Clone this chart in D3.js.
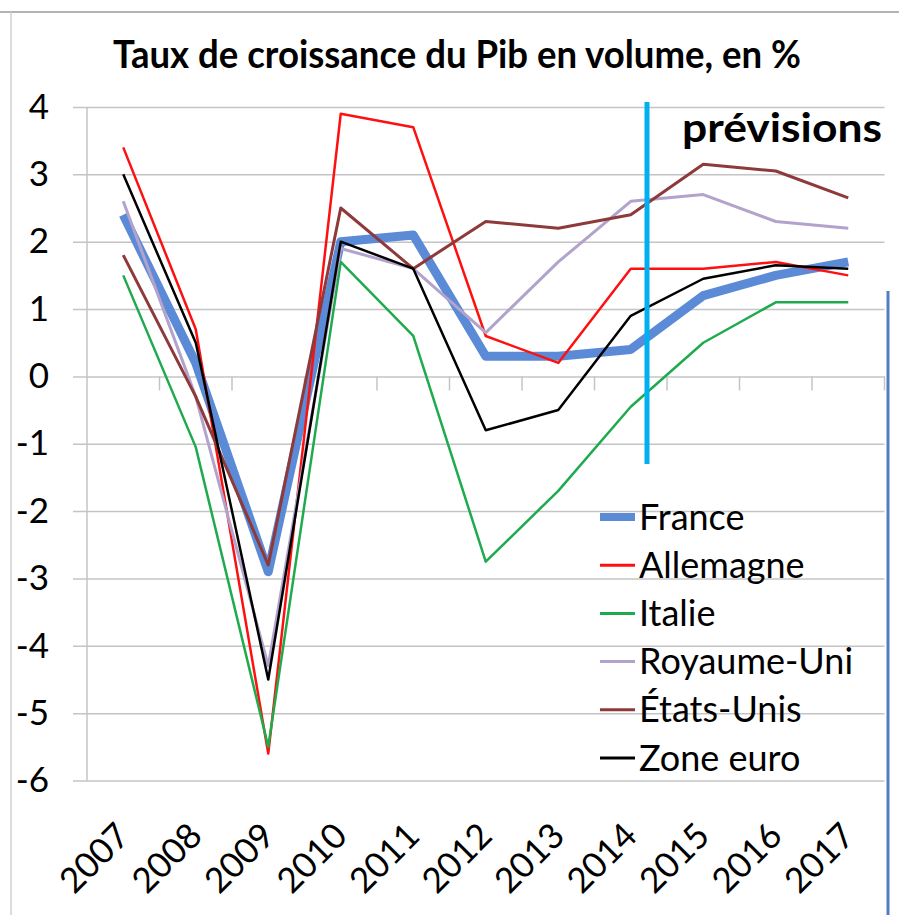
<!DOCTYPE html>
<html>
<head>
<meta charset="utf-8">
<script src="https://cdn.jsdelivr.net/npm/d3@7"></script>
<style>
  body { margin: 0; background: #fff; }
  svg { display: block; font-family: Lato, "Open Sans", sans-serif; }
</style>
</head>
<body>
<svg id="chart" width="899" height="915"></svg>
<script>
// data
const years = ["2007", "2008", "2009", "2010", "2011", "2012", "2013", "2014", "2015", "2016", "2017"];
const yTicks = [4, 3, 2, 1, 0, -1, -2, -3, -4, -5, -6];

const france     = [2.4, 0.2, -2.9, 2.0, 2.1, 0.3, 0.3, 0.4, 1.2, 1.5, 1.7];
const allemagne  = [3.4, 0.7, -5.6, 3.9, 3.7, 0.6, 0.2, 1.6, 1.6, 1.7, 1.5];
const italie     = [1.5, -1.05, -5.5, 1.7, 0.6, -2.75, -1.7, -0.45, 0.5, 1.1, 1.1];
const royaumeUni = [2.6, -0.3, -4.3, 1.9, 1.6, 0.65, 1.7, 2.6, 2.7, 2.3, 2.2];
const etatsUnis  = [1.8, -0.3, -2.8, 2.5, 1.6, 2.3, 2.2, 2.4, 3.15, 3.05, 2.65];
const zoneEuro   = [3.0, 0.5, -4.5, 2.0, 1.6, -0.8, -0.5, 0.9, 1.45, 1.65, 1.6];

const series = [
  { name: "France",      values: france,     color: "#5b8ad6", width: 9 },
  { name: "Allemagne",   values: allemagne,  color: "#ff1010", width: 2.5 },
  { name: "Italie",      values: italie,     color: "#1faa4e", width: 2.5 },
  { name: "Royaume-Uni", values: royaumeUni, color: "#b3a3cc", width: 3 },
  { name: "États-Unis",  values: etatsUnis,  color: "#8e3a3a", width: 3 },
  { name: "Zone euro",   values: zoneEuro,   color: "#000000", width: 2.5 }
];

const svg = d3.select("#chart");

const x = d3.scaleBand().domain(years).range([87, 884.5]);
const y = d3.scaleLinear().domain([-6, 4]).range([780.5, 107]);
const cx = d => x(d) + x.bandwidth() / 2;

// frame bits around the picture
svg.append("line").attr("x1", 0).attr("x2", 899).attr("y1", 12).attr("y2", 12)
  .attr("stroke", "#9a9a9a").attr("stroke-width", 1.5);
svg.append("line").attr("x1", 11).attr("x2", 11).attr("y1", 12).attr("y2", 915)
  .attr("stroke", "#d0d0d0").attr("stroke-width", 1.5);

// title
svg.append("text")
  .attr("x", 113).attr("y", 68)
  .attr("font-size", 39).attr("font-weight", "bold")
  .attr("textLength", 688).attr("lengthAdjust", "spacingAndGlyphs")
  .text("Taux de croissance du Pib en volume, en %");

// gridlines
svg.append("g")
  .attr("transform", "translate(884.5,0)")
  .call(d3.axisLeft(y).tickValues(yTicks).tickSize(884.5 - 73).tickFormat(""))
  .call(g => g.select(".domain").remove())
  .call(g => g.selectAll("line").attr("stroke", "#c4c4c4").attr("stroke-width", 1.5));

// y labels (plain hyphen, like the original)
svg.append("g")
  .attr("transform", "translate(73,0)")
  .call(d3.axisLeft(y).tickValues(yTicks).tickSize(0).tickPadding(24).tickFormat(d => String(d)))
  .call(g => g.select(".domain").remove())
  .call(g => g.selectAll("text")
    .attr("font-family", "Lato, 'Open Sans', sans-serif")
    .attr("font-size", 35).attr("fill", "#000"));

// vertical axis line
svg.append("line")
  .attr("x1", 87).attr("x2", 87).attr("y1", y(4)).attr("y2", y(-6))
  .attr("stroke", "#c4c4c4").attr("stroke-width", 1.5);

// category ticks on the zero line
svg.append("g").selectAll("line")
  .data(years)
  .join("line")
  .attr("x1", d => x(d) + x.bandwidth()).attr("x2", d => x(d) + x.bandwidth())
  .attr("y1", y(0)).attr("y2", y(0) + 14)
  .attr("stroke", "#c4c4c4").attr("stroke-width", 1.5);

// year labels, rotated
svg.append("g").selectAll("text")
  .data(years)
  .join("text")
  .attr("transform", d => `translate(${cx(d) - 29},858) rotate(-45)`)
  .attr("text-anchor", "middle").attr("dy", "0.35em")
  .attr("font-size", 35)
  .text(d => d);

// lines
const line = d3.line().x((v, i) => cx(years[i])).y(v => y(v));
svg.append("g").selectAll("path")
  .data(series)
  .join("path")
  .attr("d", d => line(d.values))
  .attr("fill", "none")
  .attr("stroke", d => d.color)
  .attr("stroke-width", d => d.width)
  .attr("stroke-linejoin", "round");

// forecast marker
svg.append("line")
  .attr("x1", 647).attr("x2", 647).attr("y1", 102).attr("y2", 464)
  .attr("stroke", "#00b0f0").attr("stroke-width", 5);
svg.append("text")
  .attr("x", 682).attr("y", 142)
  .attr("font-size", 40).attr("font-weight", "bold")
  .attr("textLength", 200).attr("lengthAdjust", "spacingAndGlyphs")
  .text("prévisions");

// legend
const legend = svg.append("g").selectAll("g")
  .data(series)
  .join("g")
  .attr("transform", (d, i) => `translate(600,${517 + i * 48.2})`);
legend.append("line")
  .attr("x1", 0).attr("x2", 35)
  .attr("stroke", d => d.color)
  .attr("stroke-width", d => d.width === 9 ? 8 : 3);
legend.append("text")
  .attr("x", 39).attr("dy", "0.35em")
  .attr("font-size", 36)
  .text(d => d.name);

// blue edge on the right
svg.append("line")
  .attr("x1", 888).attr("x2", 888).attr("y1", 291).attr("y2", 915)
  .attr("stroke", "#4f7fc0").attr("stroke-width", 3);
</script>
</body>
</html>
